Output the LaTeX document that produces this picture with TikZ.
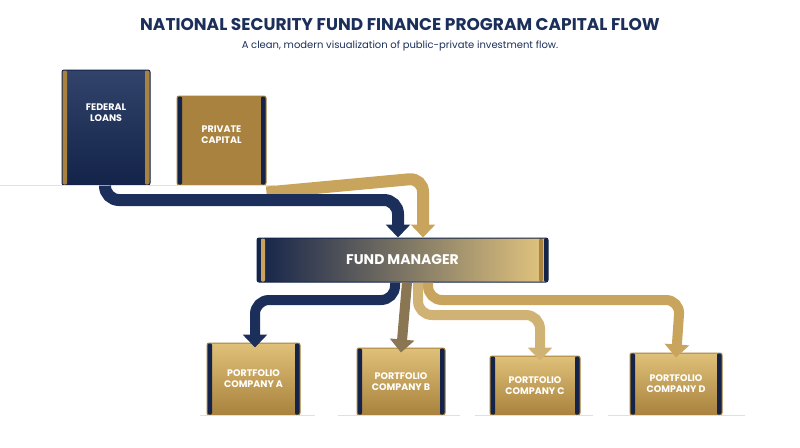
\documentclass[tikz,border=0pt]{standalone}
\usepackage{fontspec}
\setmainfont{Poppins}
\usetikzlibrary{arrows.meta}
\definecolor{navy}{HTML}{1B2F5A}
\definecolor{dnavy}{HTML}{13234A}
\definecolor{gold}{HTML}{C9A45C}
\definecolor{lgold}{HTML}{E4C67E}
\definecolor{dgold}{HTML}{A8823E}
\definecolor{taupe}{HTML}{8A7652}
\begin{document}
\begin{tikzpicture}[x=1pt,y=-1pt,
  lbl/.style={text=white,font=\bfseries\fontsize{9.5}{11}\selectfont,align=center},
  strips/.style={path picture={
     \fill[#1] (path picture bounding box.north west) rectangle ([xshift=5pt]path picture bounding box.south west);
     \fill[#1] ([xshift=-5pt]path picture bounding box.north east) rectangle (path picture bounding box.south east);}},
  navybox/.style={lbl,draw=dnavy,line width=1pt,rounded corners=2pt,top color=navy!90!white,bottom color=dnavy,strips=dgold},
  goldbox/.style={lbl,draw=dgold,line width=1pt,rounded corners=2pt,top color=lgold!85!gold,bottom color=dgold,strips=dnavy},
  pvbox/.style={lbl,draw=dgold,line width=1pt,rounded corners=2pt,left color=dgold,middle color=lgold,right color=dgold,strips=dnavy},
  flow/.style={line width=#1,rounded corners=14pt,-{Triangle[width=24pt,length=13pt]}},
  ground/.style={draw=black!12,line width=0.8pt}]
\useasboundingbox (0,0) rectangle (800,447);
\node[text=navy,font=\bfseries\fontsize{17}{20}\selectfont] (title) at (400,25) {NATIONAL SECURITY FUND FINANCE PROGRAM CAPITAL FLOW};
\node[text=navy,font=\fontsize{10}{12}\selectfont] (sub) at (400,46) {A clean, modern visualization of public-private investment flow.};
% sources
\node[navybox,minimum width=88pt,minimum height=115pt,text depth=30pt] (fl) at (106,127.5) {FEDERAL\\LOANS};
\node[pvbox,minimum width=89pt,minimum height=89pt,text depth=12pt] (pc) at (221.5,140.5) {PRIVATE\\CAPITAL};
\draw[ground] (0,185) -- (275,185);
% fund manager
\node[draw=dnavy,line width=1pt,rounded corners=2pt,left color=dnavy,middle color=navy!55!gold,right color=lgold,
  minimum width=291pt,minimum height=44pt,text=white,font=\bfseries\fontsize{14}{16}\selectfont,
  path picture={
   \fill[gold] ([xshift=4pt]path picture bounding box.north west) rectangle ([xshift=8pt]path picture bounding box.south west);
   \fill[dgold] ([xshift=-9pt]path picture bounding box.north east) rectangle ([xshift=-5pt]path picture bounding box.south east);
   \fill[dnavy] ([xshift=-4pt]path picture bounding box.north east) rectangle (path picture bounding box.south east);}]
  (fm) at (402.5,260) {FUND MANAGER};
% top flows
\draw[flow=12pt,gold] ([yshift=-7pt]pc.south east) -- (423,178) -- ([xshift=20.5pt]fm.north);
\draw[flow=12pt,navy] ([xshift=-1pt]fl.south) -- (105,200) -- (398,200) -- ([xshift=-4.5pt]fm.north);
% portfolio
\node[goldbox,minimum width=93pt,minimum height=72pt] (a) at (253.5,379) {PORTFOLIO\\COMPANY A};
\node[goldbox,minimum width=88pt,minimum height=67pt] (b) at (401,381.5) {PORTFOLIO\\COMPANY B};
\node[goldbox,minimum width=90pt,minimum height=59pt] (c) at (535,385.5) {PORTFOLIO\\COMPANY C};
\node[goldbox,minimum width=92pt,minimum height=62pt] (d) at (676,384) {PORTFOLIO\\COMPANY D};
\draw[ground] (200,415) -- (315,415) (338,415) -- (460,415) (475,415) -- (593,415) (608,415) -- (745,415);
% bottom flows
\draw[flow=10pt,gold] ([xshift=25.5pt]fm.south) -- (428,300) -- (680,300) -- ([yshift=-5pt]d.north);
\draw[flow=10pt,gold!85!white] ([xshift=15.5pt]fm.south) -- (418,315) -- (540,315) -- ([xshift=5pt,yshift=-5pt]c.north);
\draw[flow=10pt,taupe] ([xshift=4.5pt]fm.south) -- ([yshift=-5pt]b.north);
\draw[flow=10pt,navy] ([xshift=-7.5pt]fm.south) -- (395,300) -- (255,300) -- ([xshift=1.5pt,yshift=-5pt]a.north);
\end{tikzpicture}
\end{document}
